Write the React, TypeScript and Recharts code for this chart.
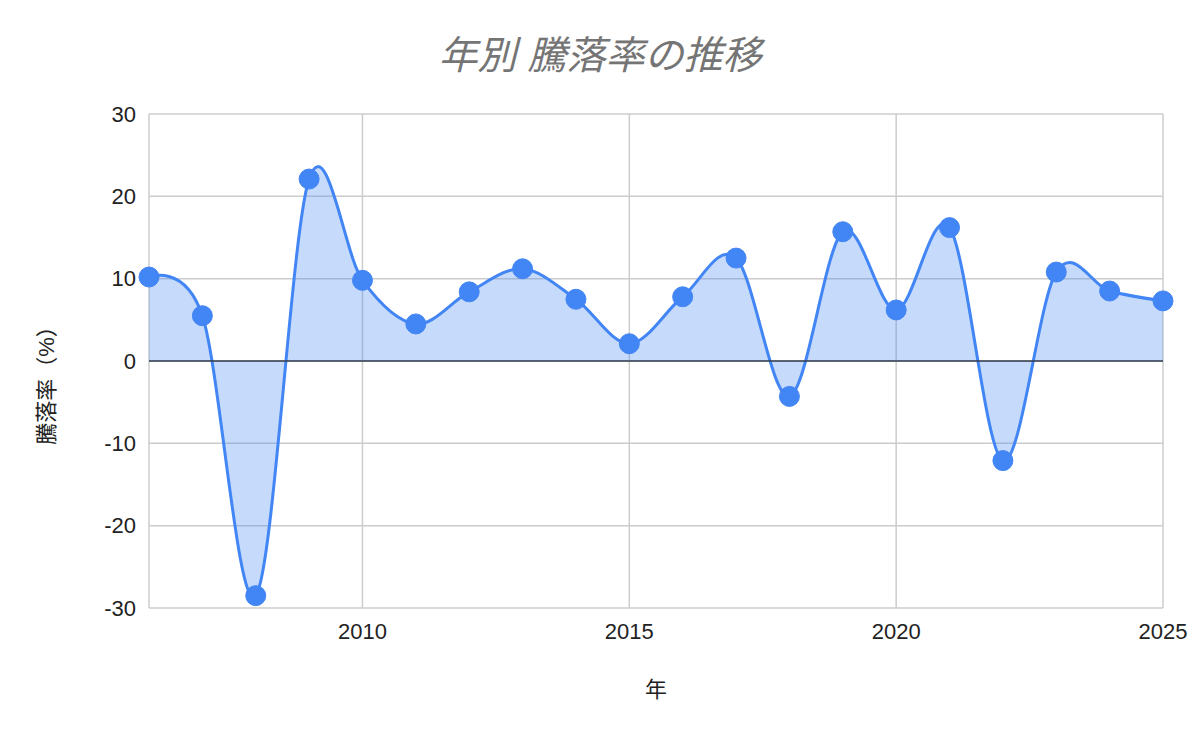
import { AreaChart, Area, XAxis, YAxis, CartesianGrid, ReferenceLine, Label } from "recharts";

const years = [2006, 2007, 2008, 2009, 2010, 2011, 2012, 2013, 2014, 2015, 2016, 2017, 2018, 2019, 2020, 2021, 2022, 2023, 2024, 2025];
const returns = [10.2, 5.5, -28.5, 22.1, 9.8, 4.5, 8.4, 11.2, 7.5, 2.1, 7.8, 12.5, -4.3, 15.7, 6.2, 16.2, -12.1, 10.8, 8.5, 7.3];
const xTicks = [2010, 2015, 2020, 2025];
const yTicks = [-30, -20, -10, 0, 10, 20, 30];

const data = years.map((year, i) => ({ year, value: returns[i] }));

const FONT = "'Liberation Sans', Arial, 'Noto Sans CJK JP', sans-serif";
const BLUE = "#4285f4";

// catmull-rom style smoothing, close to the sheets "smooth" line
const smoothCurve = (context: any) => {
  const k = 1 / 6;
  let x0 = NaN, x1 = NaN, x2 = NaN, y0 = NaN, y1 = NaN, y2 = NaN;
  let pt = 0;
  let line: number = NaN;
  const seg = (x: number, y: number) => {
    context.bezierCurveTo(
      x1 + k * (x2 - x0),
      y1 + k * (y2 - y0),
      x2 + k * (x1 - x),
      y2 + k * (y1 - y),
      x2,
      y2
    );
  };
  return {
    areaStart() { line = 0; },
    areaEnd() { line = NaN; },
    lineStart() { x0 = x1 = x2 = y0 = y1 = y2 = NaN; pt = 0; },
    lineEnd() {
      if (pt === 2) context.lineTo(x2, y2);
      else if (pt === 3) seg(x1, y1);
      if (line || (line !== 0 && pt === 1)) context.closePath();
      line = 1 - line;
    },
    point(x: number, y: number) {
      x = +x; y = +y;
      if (pt === 0) {
        pt = 1;
        line ? context.lineTo(x, y) : context.moveTo(x, y);
      } else if (pt === 1) {
        pt = 2;
        x1 = x; y1 = y;
      } else {
        pt = 3;
        seg(x, y);
      }
      x0 = x1; x1 = x2; x2 = x;
      y0 = y1; y1 = y2; y2 = y;
    },
  };
};

export default function App() {
  return (
    <div style={{ position: "absolute", left: 0, top: 0, width: 1200, height: 742, background: "#fff", fontFamily: FONT }}>
      <div
        style={{
          position: "absolute",
          top: 36,
          width: 1200,
          textAlign: "center",
          fontSize: 39,
          lineHeight: "39px",
          fontStyle: "italic",
          color: "#757575",
          fontFamily: FONT,
        }}
      >
        年別 騰落率の推移
      </div>
      <div
        style={{
          position: "absolute",
          left: 47,
          top: 380,
          transform: "translate(-50%, -50%) rotate(-90deg)",
          fontSize: 22,
          lineHeight: "22px",
          whiteSpace: "nowrap",
          color: "#222",
          fontFamily: FONT,
          zIndex: 1,
        }}
      >
        騰落率（%）
      </div>
      <AreaChart width={1200} height={742} data={data} margin={{ top: 114, right: 37, bottom: 0, left: 0 }}>
        <CartesianGrid stroke="#cccccc" strokeWidth={1.5} />
        <XAxis
          dataKey="year"
          type="number"
          domain={[2006, 2025]}
          ticks={xTicks}
          axisLine={false}
          tickLine={false}
          tickSize={0}
          tickMargin={15}
          height={134}
          tick={{ fill: "#222", fontSize: 22, fontFamily: FONT }}
        >
          <Label value="年" position="insideTop" offset={73} fill="#222" fontSize={22} fontFamily={FONT} />
        </XAxis>
        <YAxis
          type="number"
          domain={[-30, 30]}
          ticks={yTicks}
          axisLine={false}
          tickLine={false}
          tickSize={0}
          tickMargin={13}
          width={149}
          tick={{ fill: "#222", fontSize: 22, fontFamily: FONT }}
        />
        <ReferenceLine y={0} stroke="#333d4d" strokeWidth={1.5} />
        <Area
          type={smoothCurve as any}
          dataKey="value"
          stroke={BLUE}
          strokeWidth={3}
          fill={BLUE}
          fillOpacity={0.3}
          dot={{ r: 10, fill: BLUE, stroke: BLUE, strokeWidth: 1, fillOpacity: 1 }}
          activeDot={false}
          isAnimationActive={false}
        />
      </AreaChart>
    </div>
  );
}
